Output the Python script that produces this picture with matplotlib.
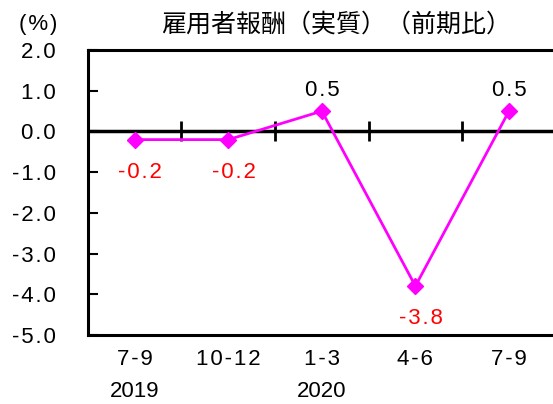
import matplotlib.pyplot as plt
import matplotlib.transforms as mtransforms

plt.rcParams['font.family'] = ['Liberation Sans', 'DejaVu Sans']

quarters = ["7-9", "10-12", "1-3", "4-6", "7-9"]
years = ["2019", "", "2020", "", ""]
values = [-0.2, -0.2, 0.5, -3.8, 0.5]
yticks = [2, 1, 0, -1, -2, -3, -4, -5]


def spaced(s):
    # the original uses a little letter spacing
    return "\u200a".join(s)


fig = plt.figure(figsize=(5.53, 4.04), dpi=100)
ax = fig.add_axes([0.159, 0.171, 0.846, 0.705])

x = list(range(len(values)))
ax.plot(x, values, color='#ff00ff', lw=2, marker='D', ms=8, zorder=3)

# zero line with category separators
ax.axhline(0, color='black', lw=2.5, zorder=2)
ax.plot([i + 0.5 for i in x[:-1]], [0] * (len(x) - 1), '|', color='black',
        ms=14, mew=2, zorder=2)

for xi, v in zip(x, values):
    if v < 0:
        ax.annotate(spaced(f"{v:.1f}"), (xi, v), xytext=(4, -16), textcoords='offset points',
                    ha='center', va='top', color='red', fontsize=16)
    else:
        ax.annotate(spaced(f"{v:.1f}"), (xi, v), xytext=(0, 7), textcoords='offset points',
                    ha='center', va='bottom', color='black', fontsize=16)

ax.set_xlim(-0.5, len(values) - 0.5)
ax.set_ylim(-5, 2)
ax.set_yticks(yticks)
ax.set_yticklabels([spaced(f"{t:.1f}") for t in yticks], fontsize=16)
ax.tick_params(axis='y', direction='in', length=7, width=1.5, pad=23)
ax.set_xticks(x)
ax.set_xticklabels([spaced(q) for q in quarters], fontsize=16)
ax.tick_params(axis='x', length=0, pad=10)

trans = mtransforms.blended_transform_factory(ax.transData, ax.transAxes)
for xi, yr in zip(x, years):
    if yr:
        ax.text(xi, -0.2, yr, transform=trans, ha='center', va='center', fontsize=16)

for s in ax.spines.values():
    s.set_linewidth(2.2)

fig.text(0.035, 0.94, spaced("(%)"), fontsize=16, va='center')
fig.text(0.607, 0.94, "雇用者報酬（実質）（前期比）", fontsize=18, ha='center', va='center',
         family=['Noto Sans CJK JP', 'DejaVu Sans'])

plt.savefig("out.png", dpi=100)
